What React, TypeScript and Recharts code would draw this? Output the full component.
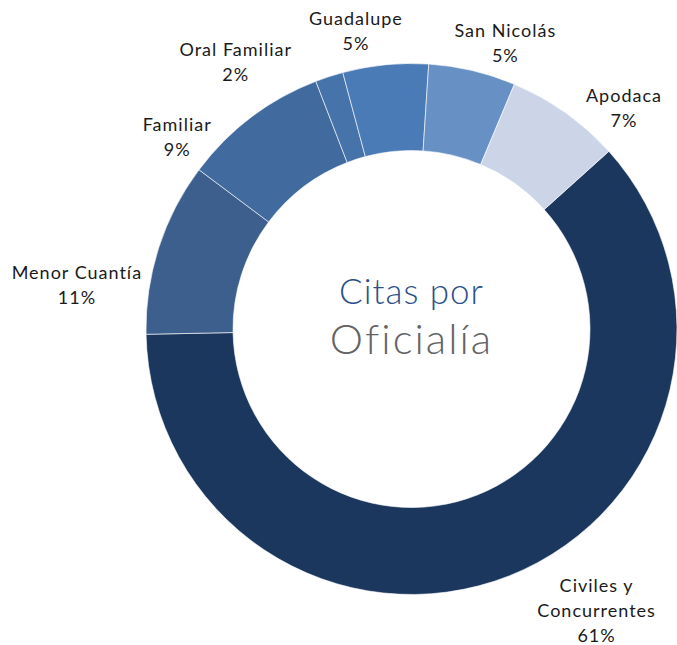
import { PieChart, Pie, Cell } from "recharts";

const categories = [
  "Civiles y Concurrentes",
  "Menor Cuantía",
  "Familiar",
  "Oral Familiar",
  "Guadalupe",
  "San Nicolás",
  "Apodaca",
];
const shares = [61.35, 10.55, 8.9, 1.7, 5.2, 5.3, 7.0];
const colors = [
  "#1b375e",
  "#3d5f8d",
  "#416b9e",
  "#4673aa",
  "#4b7bb6",
  "#6790c5",
  "#cbd5e7",
];
// label lines (names wrapped the way the original wraps them)
const labelLines = [
  ["Civiles y", "Concurrentes"],
  ["Menor Cuantía"],
  ["Familiar"],
  ["Oral Familiar"],
  ["Guadalupe"],
  ["San Nicolás"],
  ["Apodaca"],
];

// per-slice nudge for label placement: [angle shift deg, extra radius px]
const LABEL_NUDGE: [number, number][] = [
  [11.8, 71],
  [10.3, 72],
  [13.5, 37.5],
  [15.2, 55],
  [4.9, 38.5],
  [-4.9, 35.5],
  [-8.4, 41.5],
];

const data = categories.map((name, i) => ({ name, value: shares[i] }));

const CX = 411.5;
const CY = 329;
const RAD = Math.PI / 180;
const FONT = "Lato, 'Open Sans', sans-serif";

function renderLabel(props: any) {
  const { cx, cy, midAngle, outerRadius, percent, index } = props;
  const [da, dr] = LABEL_NUDGE[index];
  const a = midAngle + da;
  const r = outerRadius + dr;
  const x = cx + r * Math.cos(-a * RAD);
  const y = cy + r * Math.sin(-a * RAD);
  const lines = [...labelLines[index], `${Math.round(percent * 100)}%`];
  const lh = 25;
  const top = y - ((lines.length - 1) * lh) / 2;
  return (
    <text
      key={`lbl-${index}`}
      x={x}
      y={top}
      textAnchor="middle"
      dominantBaseline="central"
      fill="#1a1a1a"
      fontSize={18}
      fontFamily={FONT}
      letterSpacing={1}
    >
      {lines.map((t, j) => (
        <tspan key={j} x={x} y={top + j * lh}>
          {t}
        </tspan>
      ))}
    </text>
  );
}

export default function App() {
  return (
    <div
      style={{
        position: "absolute",
        left: 0,
        top: 0,
        width: 677,
        height: 645,
        background: "#fff",
        fontFamily: FONT,
      }}
    >
      <PieChart
        width={677}
        height={645}
        margin={{ top: 0, right: 0, bottom: 0, left: 0 }}
      >
        <Pie
          data={data}
          dataKey="value"
          nameKey="name"
          cx={CX}
          cy={CY}
          outerRadius={265.5}
          innerRadius={178.5}
          startAngle={42}
          endAngle={-318}
          stroke="#ffffff"
          strokeWidth={0.6}
          label={renderLabel}
          labelLine={false}
          isAnimationActive={false}
        >
          {data.map((d, i) => (
            <Cell key={d.name} fill={colors[i]} />
          ))}
        </Pie>
      </PieChart>
      <div
        style={{
          position: "absolute",
          left: CX - 130,
          width: 260,
          top: CY - 62,
          textAlign: "center",
          pointerEvents: "none",
        }}
      >
        <div
          style={{
            color: "#2b5089",
            fontSize: 35,
            fontWeight: 300,
            lineHeight: "46px",
            letterSpacing: 1,
          }}
        >
          Citas por
        </div>
        <div
          style={{
            color: "#636363",
            fontSize: 42,
            fontWeight: 300,
            lineHeight: "50px",
            letterSpacing: 2,
          }}
        >
          Oficialía
        </div>
      </div>
    </div>
  );
}
